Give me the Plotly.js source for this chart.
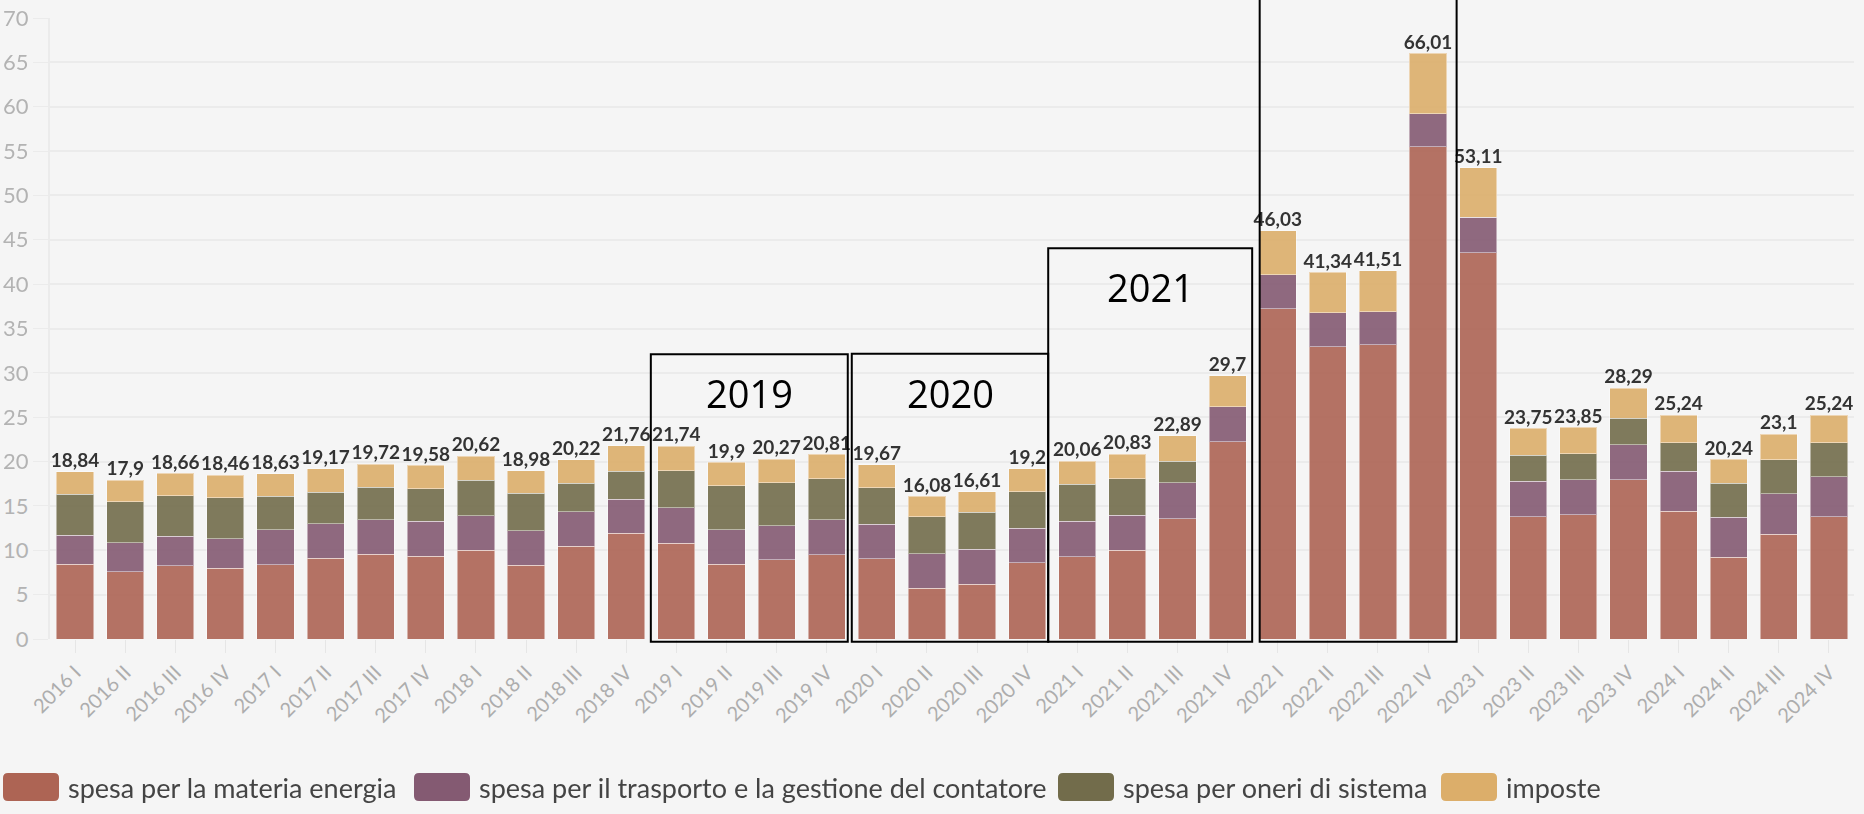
<!DOCTYPE html>
<html>
<head>
<meta charset="utf-8">
<script src="https://cdn.plot.ly/plotly-3.0.1.min.js"></script>
<style>
  html, body { margin: 0; padding: 0; background: #f5f5f5; }
  #chart { width: 1864px; height: 814px; }
</style>
</head>
<body>
<div id="chart"></div>
<script>
var quarters = [
  '2016 I', '2016 II', '2016 III', '2016 IV',
  '2017 I', '2017 II', '2017 III', '2017 IV',
  '2018 I', '2018 II', '2018 III', '2018 IV',
  '2019 I', '2019 II', '2019 III', '2019 IV',
  '2020 I', '2020 II', '2020 III', '2020 IV',
  '2021 I', '2021 II', '2021 III', '2021 IV',
  '2022 I', '2022 II', '2022 III', '2022 IV',
  '2023 I', '2023 II', '2023 III', '2023 IV',
  '2024 I', '2024 II', '2024 III', '2024 IV'
];

var energia = [
  8.42, 7.59, 8.27, 7.97, 8.38, 9.10, 9.58, 9.32, 10.03, 8.31, 10.45, 11.92,
  10.82, 8.42, 8.94, 9.47, 9.02, 5.71, 6.20, 8.57, 9.28, 10.00, 13.56, 22.21,
  37.24, 32.96, 33.15, 55.47, 43.52, 13.79, 13.98, 17.93, 14.40, 9.21, 11.80, 13.79
];
var trasporto = [
  3.30, 3.27, 3.30, 3.34, 3.94, 3.87, 3.87, 3.95, 3.87, 3.87, 3.90, 3.83,
  3.95, 3.87, 3.83, 3.98, 3.91, 3.91, 3.91, 3.91, 4.02, 3.95, 4.06, 3.98,
  3.80, 3.79, 3.75, 3.75, 4.02, 3.99, 3.98, 3.98, 4.50, 4.54, 4.55, 4.51
];
var oneri = [
  4.59, 4.59, 4.55, 4.62, 3.77, 3.60, 3.65, 3.68, 3.99, 4.24, 3.20, 3.15,
  4.17, 4.99, 4.82, 4.62, 4.13, 4.17, 4.17, 4.13, 4.14, 4.12, 2.41, 0,
  0, 0, 0, 0, 0, 2.96, 2.93, 2.97, 3.23, 3.80, 3.87, 3.80
];
var imposte = [
  2.53, 2.45, 2.54, 2.53, 2.54, 2.60, 2.62, 2.63, 2.73, 2.56, 2.67, 2.86,
  2.80, 2.62, 2.68, 2.74, 2.61, 2.29, 2.33, 2.59, 2.62, 2.76, 2.86, 3.51,
  4.99, 4.59, 4.61, 6.79, 5.57, 3.01, 2.96, 3.41, 3.11, 2.69, 2.88, 3.14
];
var totali = [
  18.84, 17.9, 18.66, 18.46, 18.63, 19.17, 19.72, 19.58, 20.62, 18.98, 20.22, 21.76,
  21.74, 19.9, 20.27, 20.81, 19.67, 16.08, 16.61, 19.2, 20.06, 20.83, 22.89, 29.7,
  46.03, 41.34, 41.51, 66.01, 53.11, 23.75, 23.85, 28.29, 25.24, 20.24, 23.1, 25.24
];

var seriesNames = [
  'spesa per la materia energia',
  'spesa per il trasporto e la gestione del contatore',
  'spesa per oneri di sistema',
  'imposte'
];
var seriesColors = ['#ad6454', '#845a72', '#726c4b', '#dcae6a'];
var seriesValues = [energia, trasporto, oneri, imposte];

// year boxes drawn over the bars (x in category index, y in data units)
var boxLabels = ['2019', '2020', '2021'];
var boxFrom = [11.49, 15.50, 19.42, 23.64];
var boxTo = [15.42, 19.42, 23.49, 27.57];
var boxTop = [32.1, 32.15, 44.05, 80];

var font = 'Lato, "Open Sans", sans-serif';
var yMax = 70;

var data = seriesValues.map(function (vals, i) {
  return {
    type: 'bar',
    name: seriesNames[i],
    x: quarters,
    y: vals,
    opacity: 0.9,
    marker: { color: seriesColors[i], line: { color: 'rgba(255,255,255,0.45)', width: 1 } },
    hoverinfo: 'x+y+name'
  };
});

data.push({
  type: 'scatter',
  mode: 'text',
  x: quarters,
  y: totali,
  text: totali.map(function (v) { return String(v).replace('.', ','); }),
  textposition: 'top center',
  textfont: { family: font, size: 19, color: '#333333', weight: 'bold' },
  cliponaxis: false,
  hoverinfo: 'skip',
  showlegend: false
});

// plot area in pixels, used for the hand-drawn legend
var plotL = 50, plotR = 10, plotT = 18, plotB = 175;
var plotW = 1864 - plotL - plotR, plotH = 814 - plotT - plotB;
function px(x) { return (x - plotL) / plotW; }
function py(y) { return (814 - plotB - y) / plotH; }

var shapes = [];
var annotations = [];

boxFrom.forEach(function (x0, i) {
  shapes.push({
    type: 'rect', xref: 'x', yref: 'paper',
    x0: x0, x1: boxTo[i], y0: -0.3 / yMax, y1: boxTop[i] / yMax,
    line: { color: '#000000', width: 2 }
  });
  if (i < boxLabels.length) {
    annotations.push({
      xref: 'x', yref: 'y',
      x: (x0 + boxTo[i]) / 2, y: boxTop[i] - 4.4,
      text: boxLabels[i], showarrow: false,
      font: { family: '"Open Sans", sans-serif', size: 38, color: '#000000' }
    });
  }
});

var legX = [3, 414, 1058, 1441];
legX.forEach(function (x, i) {
  var x0 = px(x), x1 = px(x + 56), y0 = py(801), y1 = py(773);
  var rx = 5 / plotW, ry = 5 / plotH;
  shapes.push({
    type: 'path', xref: 'paper', yref: 'paper',
    path: 'M' + (x0 + rx) + ',' + y0 + ' L' + (x1 - rx) + ',' + y0 +
      ' Q' + x1 + ',' + y0 + ' ' + x1 + ',' + (y0 + ry) +
      ' L' + x1 + ',' + (y1 - ry) + ' Q' + x1 + ',' + y1 + ' ' + (x1 - rx) + ',' + y1 +
      ' L' + (x0 + rx) + ',' + y1 + ' Q' + x0 + ',' + y1 + ' ' + x0 + ',' + (y1 - ry) +
      ' L' + x0 + ',' + (y0 + ry) + ' Q' + x0 + ',' + y0 + ' ' + (x0 + rx) + ',' + y0 + ' Z',
    fillcolor: seriesColors[i],
    line: { width: 0 }
  });
  annotations.push({
    xref: 'paper', yref: 'paper',
    x: px(x + 63), y: py(787),
    xanchor: 'left', yanchor: 'middle',
    text: seriesNames[i], showarrow: false,
    font: { family: font, size: 27, color: '#444444' }
  });
});

var layout = {
  width: 1864,
  height: 814,
  paper_bgcolor: '#f5f5f5',
  plot_bgcolor: '#f5f5f5',
  margin: { l: plotL, r: plotR, t: plotT, b: plotB },
  barmode: 'stack',
  bargap: 0.258,
  showlegend: false,
  font: { family: font },
  xaxis: {
    type: 'category',
    range: [-0.5, quarters.length - 0.5],
    tickangle: -45,
    ticks: 'outside',
    ticklen: 13,
    tickcolor: '#e6e6e6',
    tickfont: { family: font, size: 20, color: '#adadad' },
    showgrid: false,
    showline: false,
    automargin: false,
    fixedrange: true
  },
  yaxis: {
    range: [0, yMax],
    dtick: 5,
    ticks: 'outside',
    ticklen: 15,
    tickcolor: '#ebebeb',
    gridcolor: '#ebebeb',
    gridwidth: 2,
    zeroline: false,
    showline: true,
    linecolor: '#ebebeb',
    linewidth: 2,
    tickfont: { family: font, size: 22, color: '#b3b3b3' },
    ticklabelstandoff: 0,
    automargin: false,
    fixedrange: true
  },
  shapes: shapes,
  annotations: annotations
};

Plotly.newPlot('chart', data, layout, { displayModeBar: false });
</script>
</body>
</html>
